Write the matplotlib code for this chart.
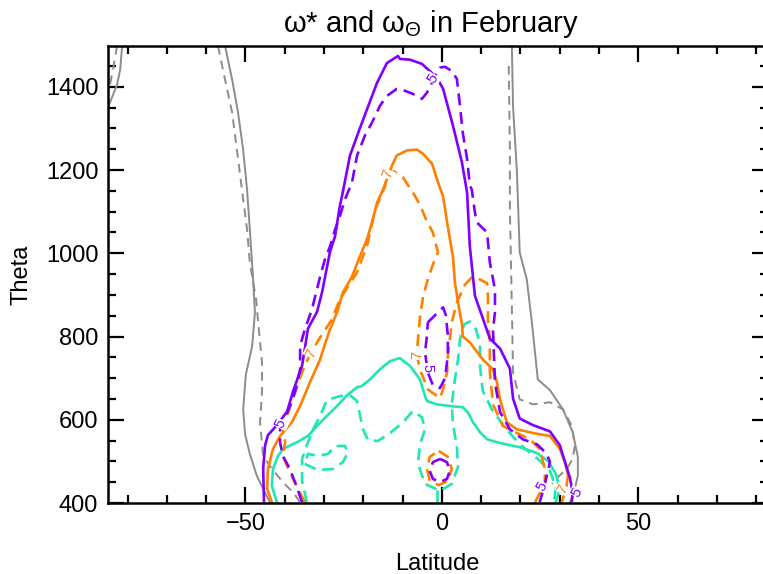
import matplotlib
matplotlib.use('Agg')
import matplotlib.pyplot as plt

plt.rcParams['font.family'] = ['Liberation Sans', 'DejaVu Sans']
plt.rcParams['mathtext.fontset'] = 'custom'
plt.rcParams['mathtext.rm'] = 'Liberation Sans'
plt.rcParams['mathtext.it'] = 'Liberation Sans'

# contour lines: latitude (deg) and theta (K)
# solid = omega*, dashed = omega_theta
purple_solid_lat = [-45.3, -45.5, -45.0, -44.3, -42.0, -39.4, -37.9, -35.6, -34.9, -34.1, -31.8, -30.5,
                    -28.5, -27.2, -26.0, -25.4, -23.4, -20.9, -16.5, -14.0, -11.2, -10.7, -8.1, -5.1,
                    -3.1, -1.3, 0.3, 2.8, 5.1, 6.4, 7.1, 8.4, 12.2, 14.8, 17.3, 18.1, 19.8, 23.2,
                    27.5, 30.0, 31.8, 32.6, 33.3, 33.1]
purple_solid_th = [405, 484, 539, 563, 587, 620, 668, 730, 771, 819, 859, 907,
                   1003, 1041, 1113, 1139, 1235, 1300, 1410, 1457, 1474, 1467, 1465, 1455,
                   1438, 1422, 1395, 1307, 1218, 1146, 1017, 898, 795, 771, 723, 651, 603, 587,
                   572, 539, 484, 460, 424, 405]

purple_dash_lat = [-35.6, -37.4, -38.7, -40.5, -41.2, -41.2, -39.2, -37.4, -36.1, -36.1, -34.9, -33.1,
                   -31.0, -29.8, -28.5, -27.2, -26.0, -24.7, -22.9, -21.6, -19.6, -17.8, -15.8, -14.0,
                   -11.5, -10.7, -7.4, -5.1, -3.8, -2.3, -1.3, -0.5, 0.8, 2.5, 3.8, 4.6, 5.3, 6.4,
                   7.1, 7.6, 8.4, 8.9, 11.5, 12.2, 13.5, 13.5, 13.0, 13.5, 14.8, 17.3, 20.6, 24.2,
                   26.7, 27.5, 26.2, 24.9]
purple_dash_th = [402, 450, 482, 513, 546, 589, 621, 666, 721, 777, 817, 865,
                  944, 985, 1016, 1057, 1088, 1129, 1170, 1235, 1283, 1314, 1354, 1378,
                  1395, 1395, 1383, 1371, 1386, 1414, 1434, 1446, 1448, 1438, 1419, 1354, 1290, 1227,
                  1163, 1153, 1098, 1074, 1050, 978, 913, 858, 817, 690, 618, 577, 553, 541,
                  518, 498, 446, 402]

purple_hole_lat = [-3.6, 0.3, 1.0, 1.5, 1.5, 0.8, -0.5, -2.3, -3.6, -4.3, -3.8, -3.6]
purple_hole_th = [834, 870, 851, 803, 755, 700, 676, 683, 714, 762, 803, 834]

purple_ring_lat = [-0.5, 1.3, 2.0, 1.3, -0.5, -2.3, -3.1, -2.3, -0.5]
purple_ring_th = [506, 498, 477, 458, 450, 458, 477, 498, 506]

orange_solid_lat = [-43.3, -44.5, -44.3, -43.0, -41.2, -38.2, -36.1, -33.6, -31.0, -29.8, -28.5, -26.7,
                    -25.2, -22.9, -20.9, -19.1, -17.8, -16.5, -15.0, -12.7, -11.5, -8.9, -6.4, -4.8,
                    -2.5, -1.3, 0.3, 1.5, 2.8, 3.3, 4.1, 5.1, 5.3, 7.1, 10.4, 13.0, 14.0, 14.8,
                    16.5, 19.1, 23.2, 27.5, 30.0, 31.3, 32.1, 31.6, 30.5]
orange_solid_th = [402, 434, 482, 530, 561, 594, 633, 690, 745, 781, 817, 858,
                   906, 944, 992, 1033, 1074, 1122, 1153, 1211, 1235, 1247, 1249, 1239,
                   1215, 1179, 1136, 1064, 992, 930, 882, 829, 800, 786, 745, 721, 690, 649,
                   594, 577, 568, 561, 530, 498, 467, 434, 402]

orange_dash_lat = [-34.9, -36.6, -37.9, -39.4, -40.5, -39.9, -40.5, -39.4, -37.4, -35.6, -33.6, -31.0,
                   -28.0, -26.0, -23.9, -21.6, -20.4, -19.1, -17.0, -14.5, -13.7, -12.0, -9.9, -7.4,
                   -5.6, -3.8, -2.3, -1.0, -2.3, -3.6, -4.8, -5.6, -6.1, -6.4, -5.6, -3.6, -0.5, 0.3,
                   1.3, 1.5, 2.0, 2.5, 3.8, 5.9, 7.6, 9.7, 11.5, 11.7, 11.7, 12.2, 12.2, 13.0,
                   15.5, 19.1, 22.4, 24.9, 26.2, 26.2, 23.7]
orange_dash_th = [402, 434, 458, 489, 513, 546, 577, 609, 666, 714, 757, 798,
                  841, 889, 920, 954, 985, 1016, 1105, 1160, 1196, 1196, 1182, 1146,
                  1117, 1076, 1050, 1002, 973, 937, 896, 846, 793, 757, 721, 673, 652, 673,
                  714, 753, 793, 834, 882, 925, 942, 937, 928, 896, 841, 793, 714, 637,
                  585, 568, 553, 530, 482, 446, 402]

orange_ring_lat = [-0.8, 1.5, 2.5, 1.5, -0.8, -3.1, -3.8, -3.1, -0.8]
orange_ring_th = [525, 511, 482, 453, 443, 453, 482, 511, 525]

cyan_solid_lat = [-42.0, -43.3, -43.0, -41.7, -40.5, -36.9, -34.1, -31.8, -29.3, -26.7, -23.9, -21.6,
                  -20.4, -18.3, -15.8, -13.2, -10.7, -8.1, -5.6, -4.3, -3.8, -1.3, 2.0, 5.3,
                  6.6, 7.9, 9.7, 11.5, 14.8, 19.8, 24.2, 27.0, 29.0, 30.0, 29.0]
cyan_solid_th = [402, 441, 482, 513, 530, 546, 561, 585, 609, 633, 661, 678,
                 681, 697, 721, 741, 748, 729, 697, 657, 645, 637, 633, 630,
                 618, 594, 570, 553, 544, 534, 520, 501, 470, 434, 402]

cyan_dash_lat = [-34.4, -35.6, -35.6, -34.1, -32.8, -31.0, -29.3, -26.0, -23.4, -21.6, -20.9, -20.1,
                 -18.8, -16.3, -13.2, -9.9, -7.4, -5.1, -4.3, -5.6, -6.1, -4.3, -0.5, 2.5,
                 4.1, 3.8, 2.8, 2.5, 3.3, 4.1, 4.6, 5.6, 7.1, 8.7, 9.7, 9.7, 10.4, 12.7,
                 16.0, 19.8, 24.4, 27.5, 29.0, 28.5]
cyan_dash_th = [402, 453, 506, 546, 577, 609, 647, 657, 659, 645, 613, 577,
                551, 549, 568, 594, 621, 606, 577, 541, 494, 446, 429, 446,
                487, 537, 589, 637, 697, 745, 793, 829, 836, 817, 781, 729, 669, 625,
                582, 541, 506, 477, 438, 402]

cyan_loop_lat = [-34.9, -31.6, -27.7, -25.2, -23.9, -24.7, -27.2, -29.0, -31.6, -34.1, -34.9]
cyan_loop_th = [494, 479, 482, 498, 522, 537, 537, 518, 513, 518, 494]

cyan_stub_lat = [-1.3, -1.3]
cyan_stub_th = [432, 400]

gray_solid_l_lat = [-55.2, -53.4, -51.9, -50.6, -49.6, -48.9, -48.1, -47.6, -48.3, -49.9, -50.6, -50.1,
                    -48.9, -47.1, -45.5, -43.8]
gray_solid_l_th = [1498, 1417, 1338, 1249, 1153, 1057, 944, 858, 777, 709, 625, 565,
                   518, 465, 434, 402]
gray_dash_l_lat = [-57.0, -55.2, -53.4, -52.2, -50.9, -49.6, -48.9, -47.3, -46.6, -45.8, -45.8, -46.3,
                   -45.5, -43.8, -40.5, -37.9, -36.1]
gray_dash_l_th = [1498, 1417, 1338, 1249, 1153, 1057, 978, 889, 817, 738, 666, 594,
                  513, 489, 450, 426, 402]
gray_solid_c_lat = [-81.4, -81.9, -82.7, -84.0, -85.0]
gray_solid_c_th = [1498, 1441, 1405, 1374, 1350]
gray_dash_c_lat = [-82.7, -83.5, -84.5, -85.0]
gray_dash_c_th = [1498, 1453, 1405, 1388]
gray_solid_r_lat = [17.8, 18.1, 19.1, 19.8, 21.6, 22.9, 24.4, 27.5, 30.8, 33.3, 34.6, 34.6, 33.8, 32.6]
gray_solid_r_th = [1498, 1352, 1194, 1002, 937, 834, 697, 671, 625, 570, 510, 465, 434, 402]
gray_dash_r_lat = [17.0, 17.3, 17.3, 17.8, 18.1, 19.8, 23.2, 27.5, 30.8, 33.1, 33.8, 33.3, 31.8, 29.5, 28.0]
gray_dash_r_th = [1450, 1249, 1105, 872, 714, 649, 637, 642, 625, 585, 537, 506, 482, 462, 446]

# contour labels: text, lat, theta, colour key, rotation
label_text = ['5', '5', '7', '7', '7', '5', '5', '7', '5']
label_lat = [-2.3, -41.0, -13.8, -33.3, -6.4, -3.6, 25.5, 30.8, 34.4]
label_th = [1420, 590, 1190, 760, 755, 725, 440, 432, 425]
label_col = ['p', 'p', 'o', 'o', 'o', 'p', 'p', 'o', 'p']
label_rot = [60, 65, 70, 65, 90, -90, 60, 60, 60]

purple = '#7F00FF'
orange = '#FF7F00'
cyan = '#1EE6B4'
gray = '#8C8C8C'
cols = {'p': purple, 'o': orange}

fig = plt.figure(figsize=(7.63, 5.74), dpi=100)
ax = fig.add_axes([108 / 763, 71 / 574, 660 / 763, 457 / 574])

lw = 1.9
glw = 1.4
dash = (0, (4.5, 2.6))
gdash = (0, (4.5, 3.2))
ax.plot(gray_solid_l_lat, gray_solid_l_th, color=gray, lw=glw)
ax.plot(gray_dash_l_lat, gray_dash_l_th, color=gray, lw=glw, linestyle=gdash)
ax.plot(gray_solid_c_lat, gray_solid_c_th, color=gray, lw=glw)
ax.plot(gray_dash_c_lat, gray_dash_c_th, color=gray, lw=glw, linestyle=gdash)
ax.plot(gray_solid_r_lat, gray_solid_r_th, color=gray, lw=glw)
ax.plot(gray_dash_r_lat, gray_dash_r_th, color=gray, lw=glw, linestyle=gdash)

ax.plot(cyan_solid_lat, cyan_solid_th, color=cyan, lw=lw)
ax.plot(cyan_dash_lat, cyan_dash_th, color=cyan, lw=lw, linestyle=dash)
ax.plot(cyan_loop_lat, cyan_loop_th, color=cyan, lw=lw, linestyle=dash)
ax.plot(cyan_stub_lat, cyan_stub_th, color=cyan, lw=lw, linestyle=dash)

ax.plot(orange_solid_lat, orange_solid_th, color=orange, lw=lw)
ax.plot(orange_dash_lat, orange_dash_th, color=orange, lw=lw, linestyle=dash)
ax.plot(orange_ring_lat, orange_ring_th, color=orange, lw=lw, linestyle=dash)

ax.plot(purple_solid_lat, purple_solid_th, color=purple, lw=lw)
ax.plot(purple_dash_lat, purple_dash_th, color=purple, lw=lw, linestyle=dash)
ax.plot(purple_hole_lat, purple_hole_th, color=purple, lw=lw, linestyle=dash)
ax.plot(purple_ring_lat, purple_ring_th, color=purple, lw=lw, linestyle=dash)

for t, x, y, c, r in zip(label_text, label_lat, label_th, label_col, label_rot):
    ax.text(x, y, t, color=cols[c], fontsize=10.5, rotation=r, ha='center', va='center',
            bbox=dict(facecolor='white', edgecolor='none', pad=0.3))

ax.set_xlim(-85, 83)
ax.set_ylim(400, 1498)
ax.set_xticks([-50, 0, 50])
ax.set_xticks(range(-80, 81, 10), minor=True)
ax.set_yticks(range(400, 1401, 200))
ax.set_yticks(range(400, 1500, 50), minor=True)
ax.tick_params(which='both', direction='in', top=True, right=True, width=1.6, labelsize=17)
ax.tick_params(which='major', length=11.5, pad=7)
ax.tick_params(which='minor', length=5.8)
for s in ax.spines.values():
    s.set_linewidth(1.8)

fig.text(431 / 763, 1 - 24 / 574, r'ω* and ω$_{\Theta}$ in February', ha='center', va='center', fontsize=21)
fig.text(437 / 763, 1 - 564 / 574, 'Latitude', ha='center', va='center', fontsize=17)
fig.text(22 / 763, 1 - 275 / 574, 'Theta', ha='center', va='center', fontsize=17, rotation=90)

fig.savefig('out.png', dpi=100)
